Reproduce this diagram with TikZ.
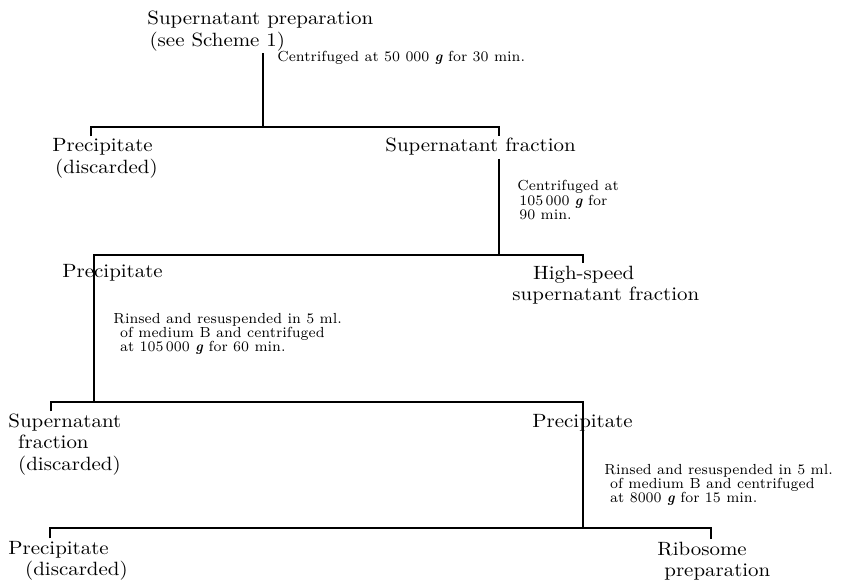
\documentclass[tikz,border=0pt]{standalone}
\usepackage{graphicx}
\usepackage{tikz}
\newcommand{\bigtxt}[1]{\scalebox{1.09}[1]{\begin{tabular}[t]{@{}l@{}}#1\end{tabular}}}
\newcommand{\smalltxt}[1]{\scalebox{0.96}[1]{\begin{tabular}[t]{@{}l@{}}#1\end{tabular}}}
\newcommand{\gee}{\textbf{\textit{g}}}
\begin{document}
\begin{tikzpicture}[x=0.5pt,y=-0.5pt,
  big/.style={font=\fontsize{9.6}{10.8}\selectfont,inner sep=0pt,anchor=base west},
  small/.style={font=\fontsize{7.3}{6.8}\selectfont,inner sep=0pt,anchor=base west},
  tree/.style={line width=0.8pt}]
\useasboundingbox (0,0) rectangle (849,582);
% fractions
\node[big] (sup) at (147,25) {\bigtxt{Supernatant preparation\\\hspace*{1pt}(see Scheme 1)}};
\node[big] (prec1) at (52,152) {\bigtxt{Precipitate\\\hspace*{1.3pt}(discarded)}};
\node[big] (supfr) at (385,152) {\bigtxt{Supernatant fraction}};
\node[big] (prec2) at (62,278) {\bigtxt{Precipitate}};
\node[big] (hss) at (512,279) {\bigtxt{\hspace*{9.5pt}High-speed\\supernatant fraction}};
\node[big] (supfr2) at (8,427) {\bigtxt{Supernatant\\\hspace*{4.5pt}fraction\\\hspace*{4.5pt}(discarded)}};
\node[big] (prec3) at (532,427) {\bigtxt{Precipitate}};
\node[big] (prec4) at (8,554) {\bigtxt{Precipitate\\\hspace*{7.7pt}(discarded)}};
\node[big] (ribo) at (657,555) {\bigtxt{Ribosome\\\hspace*{3.2pt}preparation}};
% steps
\node[small] (cf1) at (277,62) {\smalltxt{Centrifuged at 50 000 \gee{} for 30 min.}};
\node[small] (cf2) at (517,191) {\smalltxt{Centrifuged at\\\hspace*{1pt}105\,000 \gee{} for\\\hspace*{1pt}90 min.}};
\node[small] (cf3) at (113,323) {\smalltxt{Rinsed and resuspended in 5 ml.\\\hspace*{3.5pt}of medium B and centrifuged\\\hspace*{3.5pt}at 105\,000 \gee{} for 60 min.}};
\node[small] (cf4) at (604,474) {\smalltxt{Rinsed and resuspended in 5 ml.\\\hspace*{3pt}of medium B and centrifuged\\\hspace*{3pt}at 8000 \gee{} for 15 min.}};
% brackets
\coordinate (j1) at (263,127);
\coordinate (h1a) at (91,127);
\coordinate (h1b) at (499,127);
\coordinate (j2) at (499,255);
\coordinate (h2a) at (94,255);
\coordinate (h2b) at (583,255);
\coordinate (j3) at (94,402);
\coordinate (h3a) at (51,402);
\coordinate (h3b) at (583,402);
\coordinate (j4) at (583,528);
\coordinate (h4a) at (50,528);
\coordinate (h4b) at (711,528);
\draw[tree] (sup.south -| j1) -- (j1);
\draw[tree] (h1a |- prec1.north) -- (h1a) -- (h1b) -- (h1b |- supfr.north);
\draw[tree] (supfr.south -| j2) -- (j2);
\draw[tree] (j3) -- (h2a) -- (h2b) -- (h2b |- hss.north);
\draw[tree] (h3a |- supfr2.north) -- (h3a) -- (h3b) -- (j4);
\draw[tree] (h4a |- prec4.north) -- (h4a) -- (h4b) -- (h4b |- ribo.north);
\end{tikzpicture}
\end{document}
